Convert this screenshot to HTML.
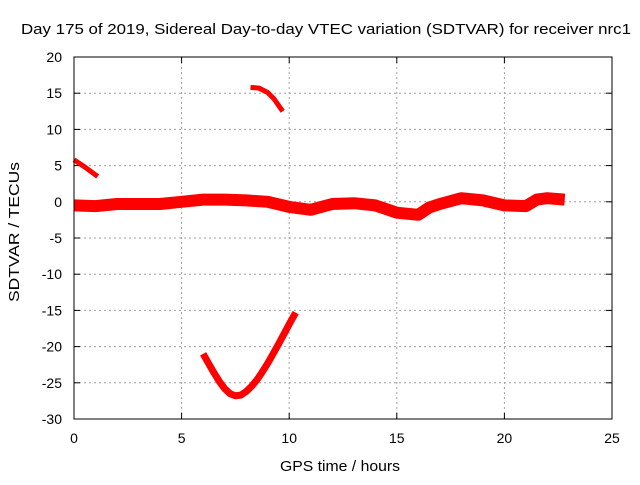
<!DOCTYPE html>
<html><head><meta charset="utf-8"><style>
body{margin:0;background:#fff}
svg text{font-family:"Liberation Sans",sans-serif;font-size:14px;fill:#000}
</style></head><body>
<svg id="chart" width="640" height="480">
<rect width="640" height="480" fill="#fff"/>
<text x="326" y="34" text-anchor="middle" textLength="610" lengthAdjust="spacingAndGlyphs" style="font-size:15px">Day 175 of 2019, Sidereal Day-to-day VTEC variation (SDTVAR) for receiver nrc1</text>
<g id="grid"></g><g id="ticks"></g><g id="series"></g>
<rect x="74" y="57" width="538" height="362" fill="none" stroke="#000" stroke-width="1"/>
<text x="340" y="471" text-anchor="middle" textLength="120" lengthAdjust="spacingAndGlyphs" style="font-size:15px">GPS time / hours</text>
<text transform="translate(19,232) rotate(-90)" text-anchor="middle" textLength="140" lengthAdjust="spacingAndGlyphs" style="font-size:15px">SDTVAR / TECUs</text>
</svg>
<script>
const xTicks=[0,5,10,15,20,25];
const yTicks=[20,15,10,5,0,-5,-10,-15,-20,-25,-30];
const bandHours=[0,1,2,3,4,5,6,7,8,9,10,11,12,13,14,15,16,16.5,17,18,19,20,21,21.5,22,22.8];
const bandValues=[-0.5,-0.6,-0.3,-0.3,-0.3,0,0.3,0.3,0.2,0,-0.7,-1.1,-0.3,-0.2,-0.5,-1.5,-1.8,-0.8,-0.3,0.5,0.2,-0.5,-0.6,0.3,0.5,0.3];
const arc1Hours=[0,0.5,1.1];
const arc1Values=[5.8,4.8,3.5];
const arc2Hours=[8.2,8.6,9.0,9.3,9.7];
const arc2Values=[15.8,15.7,15.1,14.2,12.5];
const arc3Hours=[6.0,6.25,6.5,6.75,7.0,7.25,7.5,7.75,8.0,8.25,8.5,8.75,9.0,9.25,9.5,9.75,10.0,10.3];
const arc3Values=[-21,-22.3,-23.6,-24.8,-25.8,-26.5,-26.8,-26.7,-26.2,-25.5,-24.6,-23.5,-22.3,-21.0,-19.7,-18.3,-16.9,-15.3];
const X=h=>74+h*(538/25), Y=v=>57+(20-v)*(362/50);
const NS="http://www.w3.org/2000/svg";
function mk(t,a,p){const e=document.createElementNS(NS,t);for(const k in a)e.setAttribute(k,a[k]);p.appendChild(e);return e;}
const grid=document.getElementById('grid'),ticks=document.getElementById('ticks'),ser=document.getElementById('series');
xTicks.forEach(t=>{
 if(t>0&&t<25){const g=mk('line',{x1:X(t),x2:X(t),y1:57,y2:419,stroke:'#a0a0a0','stroke-dasharray':'2,3'},grid);
 
 }
 mk('line',{x1:X(t),x2:X(t),y1:419,y2:413,stroke:'#000'},ticks);
 mk('line',{x1:X(t),x2:X(t),y1:57,y2:63,stroke:'#000'},ticks);
 const l=mk('text',{x:X(t),y:443,'text-anchor':'middle'},ticks);l.textContent=t;
 
 
});
yTicks.forEach(t=>{
 if(t<20&&t>-30){const g=mk('line',{x1:74,x2:612,y1:Y(t),y2:Y(t),stroke:'#a0a0a0','stroke-dasharray':'2,3'},grid);
 
 }
 mk('line',{x1:74,x2:80,y1:Y(t),y2:Y(t),stroke:'#000'},ticks);
 mk('line',{x1:612,x2:606,y1:Y(t),y2:Y(t),stroke:'#000'},ticks);
 const l=mk('text',{x:62,y:Y(t)+5,'text-anchor':'end'},ticks);l.textContent=t;
 
 
});
function line(hs,vs,w,name){
 const d=hs.map((h,i)=>(i?'L':'M')+X(h).toFixed(1)+','+Y(vs[i]).toFixed(1)).join('');
 const p=mk('path',{d:d,fill:'none',stroke:'#f00','stroke-width':w,'stroke-linejoin':'round'},ser);
 
 
}
line(bandHours,bandValues,12,'sdtvar-main-band');
line(arc1Hours,arc1Values,5,'sdtvar-arc-start');
line(arc2Hours,arc2Values,5,'sdtvar-arc-high');
line(arc3Hours,arc3Values,7,'sdtvar-arc-low');
</script>
</body></html>
